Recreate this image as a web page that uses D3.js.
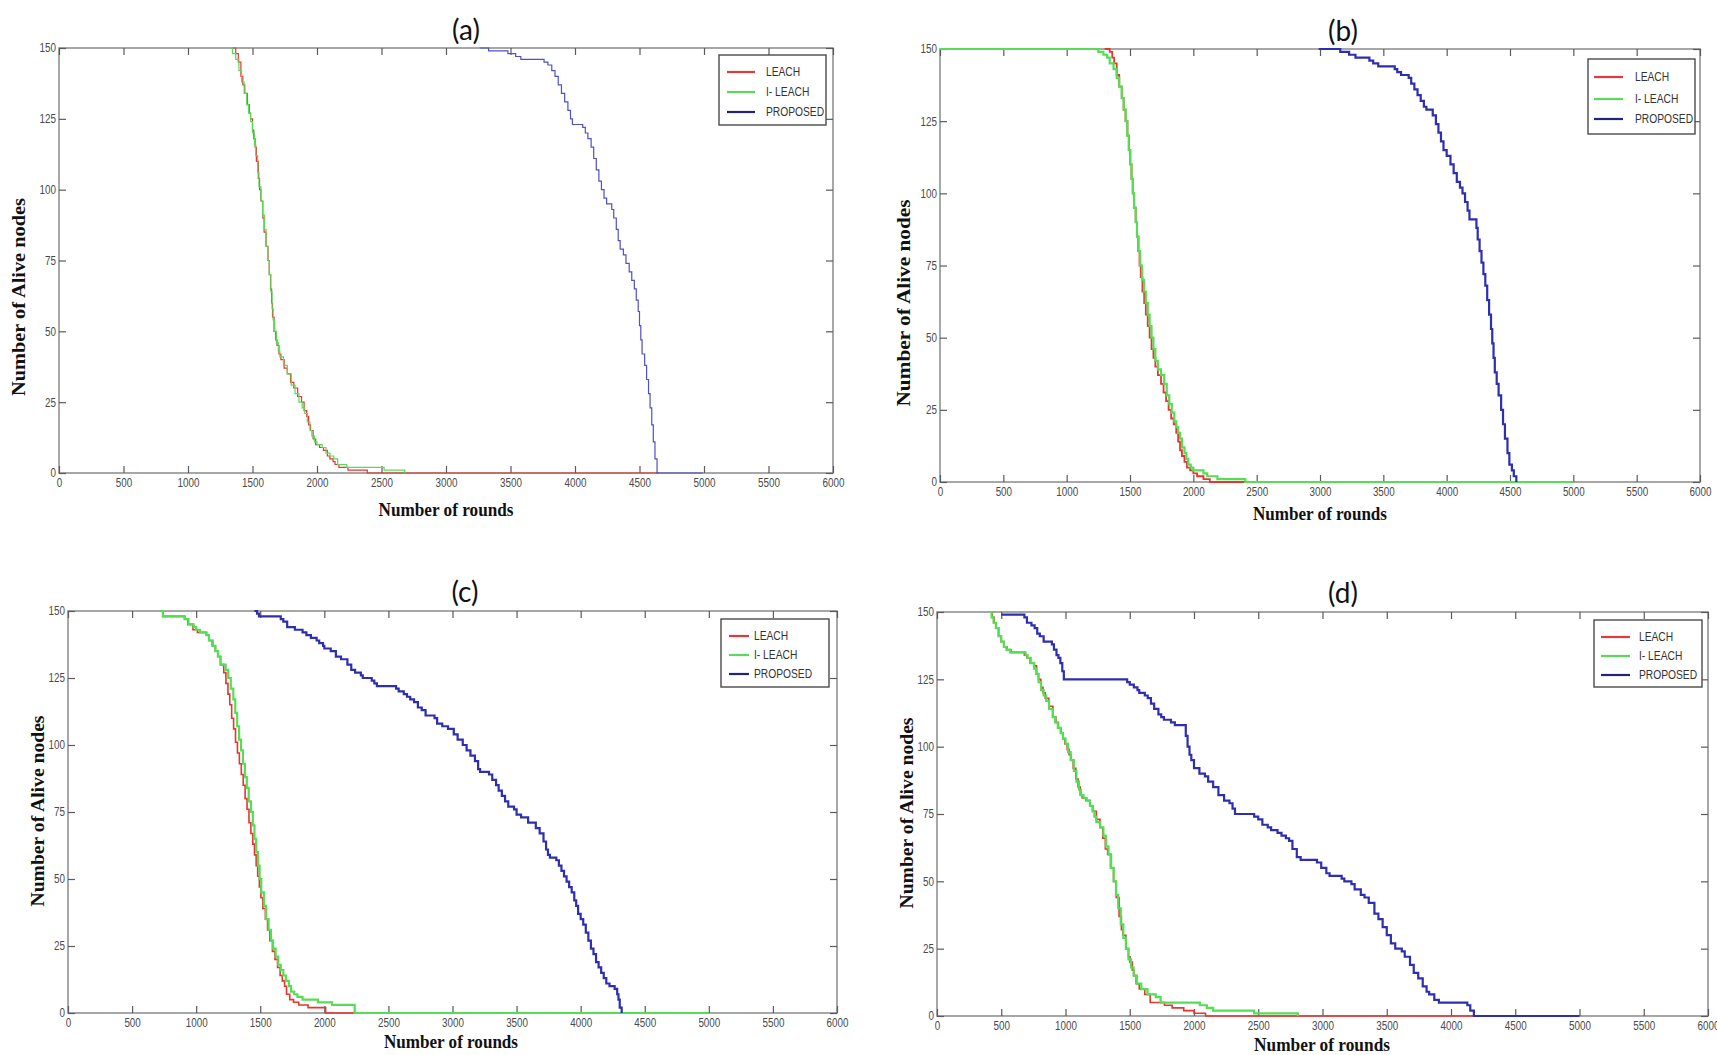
<!DOCTYPE html>
<html><head><meta charset="utf-8">
<script src="https://cdn.jsdelivr.net/npm/d3@7"></script>
<style>
html,body{margin:0;padding:0;background:#fff;}
svg{display:block;}
</style></head><body>
<svg id="chart" width="1717" height="1055"></svg>
<script>
// ---------------- DATA ----------------
const seriesNames = ["LEACH", "I- LEACH", "PROPOSED"];
const panelTitles = ["(a)", "(b)", "(c)", "(d)"];
const xTickValues = [0,500,1000,1500,2000,2500,3000,3500,4000,4500,5000,5500,6000];
const yTickValues = [0,25,50,75,100,125,150];
const xAxisTitle = "Number of rounds";
const yAxisTitle = "Number of Alive nodes";

// each point: [round at which the count starts, alive nodes]
const leachA = [[1345,150],[1370,148],[1390,145],[1410,140],[1425,137],[1440,134],[1460,130],[1475,127],[1485,125],[1500,121],[1510,118],[1520,115],[1530,110],[1545,104],[1555,100],[1565,96],[1580,90],[1590,85],[1605,80],[1620,75],[1630,70],[1640,65],[1648,60],[1655,55],[1667,50],[1680,47],[1690,45],[1705,42],[1720,40],[1745,37],[1770,35],[1795,32],[1820,30],[1850,27],[1880,25],[1900,22],[1920,20],[1935,17],[1950,15],[1970,12],[1990,10],[2020,9],[2050,8],[2080,6],[2100,5],[2125,4],[2140,3],[2170,2],[2240,1],[2390,0],[4650,0]];
const ileachA = [[1325,150],[1345,148],[1370,146],[1395,142],[1415,138],[1435,134],[1455,130],[1470,127],[1485,124],[1500,120],[1515,116],[1525,112],[1540,106],[1550,101],[1565,96],[1578,91],[1592,86],[1605,80],[1618,75],[1630,70],[1642,64],[1652,58],[1660,54],[1672,50],[1685,46],[1700,43],[1712,41],[1740,38],[1770,35],[1800,31],[1830,28],[1860,25],[1885,23],[1905,21],[1925,18],[1945,15],[1960,13],[1980,11],[2000,10],[2040,9],[2070,7],[2100,6],[2130,5],[2160,3],[2230,2],[2520,1],[2680,0]];
const proposedA = [[3265,150],[3330,149],[3480,148],[3540,147],[3580,146],[3760,145],[3790,144],[3820,142],[3845,140],[3870,137],[3895,134],[3920,131],[3945,128],[3965,125],[3980,123],[4060,122],[4080,120],[4100,118],[4125,115],[4145,111],[4165,107],[4185,103],[4205,100],[4225,97],[4245,95],[4285,93],[4300,90],[4320,86],[4335,82],[4350,79],[4375,77],[4395,74],[4420,71],[4440,68],[4460,65],[4475,61],[4490,57],[4500,52],[4510,47],[4520,42],[4540,38],[4555,33],[4570,28],[4582,23],[4595,17],[4607,11],[4620,5],[4636,0],[4990,0]];

const leachB = [[1300,150],[1340,149],[1360,147],[1375,145],[1395,141],[1415,137],[1435,133],[1450,129],[1465,125],[1480,120],[1492,115],[1502,110],[1512,105],[1522,100],[1533,95],[1545,90],[1555,85],[1565,80],[1575,75],[1585,71],[1598,66],[1612,62],[1625,58],[1640,54],[1655,50],[1670,46],[1685,43],[1700,40],[1720,37],[1745,34],[1765,31],[1785,28],[1805,25],[1825,22],[1845,20],[1865,17],[1880,14],[1895,11],[1910,9],[1930,7],[1950,5],[1975,4],[2000,3],[2030,2],[2080,1],[2130,0],[2420,0]];
const ileachB = [[0,150],[1250,149],[1290,148],[1320,147],[1340,145],[1370,143],[1395,140],[1415,137],[1435,133],[1450,129],[1465,125],[1478,120],[1490,115],[1502,110],[1512,105],[1522,100],[1532,95],[1545,90],[1555,85],[1568,80],[1580,75],[1595,70],[1610,66],[1625,62],[1640,58],[1655,54],[1670,50],[1685,46],[1700,42],[1720,39],[1745,37],[1770,34],[1790,30],[1810,27],[1830,24],[1850,21],[1865,19],[1880,17],[1895,15],[1910,12],[1930,10],[1945,8],[1960,6],[1980,5],[2000,4],[2080,3],[2110,2],[2190,1],[2410,0],[5000,0]];
const proposedB = [[2990,150],[3160,149],[3230,148],[3280,147],[3390,146],[3420,145],[3460,144],[3590,143],[3610,142],[3640,141],[3700,140],[3720,138],[3745,136],[3770,134],[3795,132],[3820,130],[3840,129],[3890,127],[3915,124],[3935,121],[3955,118],[3975,115],[4000,113],[4030,110],[4055,107],[4080,104],[4105,102],[4125,100],[4145,97],[4165,94],[4180,91],[4235,88],[4245,84],[4260,80],[4275,76],[4290,72],[4305,68],[4320,63],[4335,58],[4350,53],[4360,48],[4370,43],[4380,38],[4395,34],[4410,30],[4430,25],[4445,20],[4460,15],[4480,10],[4495,6],[4515,4],[4530,2],[4550,0]];

const leachC = [[720,150],[740,148],[910,147],[935,145],[975,143],[1010,142],[1080,141],[1100,139],[1125,137],[1150,135],[1170,133],[1190,130],[1215,127],[1232,123],[1248,119],[1262,115],[1277,110],[1292,106],[1307,101],[1322,97],[1337,93],[1352,89],[1367,85],[1382,80],[1397,76],[1412,71],[1427,67],[1442,63],[1455,59],[1468,55],[1480,51],[1493,47],[1505,43],[1520,39],[1540,35],[1557,31],[1575,27],[1595,23],[1615,20],[1635,17],[1655,14],[1672,12],[1690,10],[1705,7],[1730,5],[1760,4],[1800,3],[1873,2],[2010,0],[2240,0]];
const ileachC = [[720,150],[740,148],[910,147],[940,145],[980,144],[1000,143],[1030,142],[1080,141],[1100,139],[1130,137],[1150,135],[1170,133],[1190,130],[1230,128],[1250,125],[1270,121],[1290,117],[1305,112],[1320,107],[1335,102],[1350,98],[1365,93],[1380,88],[1395,84],[1410,79],[1428,75],[1442,70],[1455,65],[1468,60],[1482,55],[1495,50],[1508,45],[1528,40],[1545,35],[1565,31],[1583,27],[1600,24],[1620,21],[1640,18],[1660,16],[1680,14],[1700,12],[1724,10],[1740,8],[1765,7],[1790,6],[1830,5],[1950,4],[2060,3],[2237,0],[5000,0]];
const proposedC = [[1454,150],[1475,149],[1490,148],[1660,147],[1680,146],[1710,144],[1770,143],[1830,142],[1860,141],[1895,140],[1940,139],[1960,138],[1990,137],[2000,136],[2050,135],[2090,133],[2130,132],[2180,130],[2210,128],[2240,127],[2285,126],[2300,125],[2370,124],[2390,123],[2410,122],[2560,121],[2580,120],[2620,119],[2645,118],[2670,117],[2700,116],[2730,114],[2760,113],[2790,111],[2860,110],[2880,108],[2920,107],[2965,106],[3010,104],[3040,102],[3080,100],[3110,98],[3140,96],[3175,94],[3200,91],[3215,90],[3285,89],[3310,87],[3340,85],[3360,83],[3385,81],[3410,79],[3435,77],[3480,76],[3500,74],[3535,73],[3590,71],[3650,69],[3680,67],[3710,64],[3730,61],[3745,59],[3760,58],[3810,57],[3830,55],[3850,53],[3870,51],[3890,49],[3910,47],[3930,45],[3950,42],[3965,40],[3980,37],[4000,35],[4020,33],[4040,30],[4060,27],[4080,24],[4100,22],[4120,19],[4140,17],[4160,15],[4180,13],[4200,11],[4225,10],[4265,9],[4285,7],[4295,5],[4305,2],[4320,0]];

const leachD = [[404,150],[430,148],[445,146],[460,144],[480,141],[500,139],[520,137],[545,136],[575,135],[680,134],[700,133],[725,131],[757,130],[775,127],[790,125],[808,122],[825,120],[842,118],[870,115],[902,111],[925,109],[945,107],[965,105],[979,103],[995,101],[1013,99],[1028,97],[1042,95],[1060,92],[1080,88],[1098,85],[1115,82],[1130,81],[1160,80],[1190,78],[1213,76],[1240,73],[1268,70],[1290,66],[1310,62],[1328,60],[1350,55],[1374,50],[1395,44],[1417,37],[1435,32],[1447,30],[1470,25],[1490,22],[1502,20],[1520,17],[1532,15],[1550,12],[1574,10],[1617,8],[1659,5],[1770,4],[1830,3],[1920,2],[2000,1],[2090,0],[4180,0]];
const ileachD = [[404,150],[425,148],[440,146],[458,144],[478,141],[500,139],[520,137],[540,136],[570,135],[690,134],[705,133],[730,131],[755,129],[772,127],[790,124],[810,121],[830,119],[850,117],[872,114],[900,111],[920,109],[940,107],[962,105],[980,103],[1000,101],[1020,98],[1040,95],[1065,91],[1085,87],[1105,84],[1120,82],[1140,81],[1165,80],[1190,78],[1210,76],[1225,74],[1240,72],[1270,70],[1295,67],[1315,63],[1335,60],[1355,55],[1375,50],[1393,45],[1410,40],[1430,34],[1450,29],[1470,25],[1490,21],[1510,18],[1530,15],[1555,12],[1590,10],[1638,8],[1702,7],[1740,5],[2045,4],[2100,3],[2149,2],[2468,1],[2808,0]];
const proposedD = [[500,149],[680,148],[700,146],[735,145],[760,144],[780,142],[800,141],[830,139],[894,138],[910,136],[930,134],[945,133],[960,131],[975,128],[987,125],[1468,125],[1480,124],[1500,123],[1532,122],[1560,121],[1574,120],[1617,119],[1640,118],[1665,116],[1690,114],[1723,112],[1745,111],[1766,110],[1821,109],[1851,108],[1936,104],[1950,100],[1965,97],[1979,95],[2000,92],[2042,90],[2085,89],[2110,87],[2149,85],[2190,82],[2234,80],[2276,79],[2300,77],[2319,75],[2468,74],[2500,73],[2532,71],[2574,70],[2600,69],[2650,68],[2681,67],[2715,66],[2740,65],[2766,62],[2800,59],[2830,58],[2957,57],[2990,55],[3030,53],[3055,52],[3149,51],[3170,50],[3225,49],[3250,47],[3298,45],[3327,44],[3360,42],[3404,38],[3435,36],[3468,33],[3500,30],[3532,27],[3566,25],[3617,24],[3640,22],[3681,19],[3710,16],[3745,14],[3780,11],[3810,9],[3830,8],[3870,6],[3906,5],[4127,4],[4150,2],[4178,0],[5000,0]];

const panelSeries = [
  [leachA, ileachA, proposedA],
  [leachB, ileachB, proposedB],
  [leachC, ileachC, proposedC],
  [leachD, ileachD, proposedD]
];

// ---------------- LAYOUT / STYLE ----------------
const seriesColors = ["#e8352f", "#55dd55", "#3333bb"];
const legendColors = ["#e03a3a", "#5cd85c", "#23237a"];
const layout = [
  {L:59, T:48, R:833, B:473, tx:466, ty:40, ylx:25, yly:297, yll:198, xlx:446, xly:516, xll:135,
   leg:[719,55,826,125], rows:[72,92,112], lx:[727,755], ltx:766, lw:[1.2,1.2,1.2], blue:"#5050c8"},
  {L:940, T:49, R:1700, B:482, tx:1343, ty:41, ylx:910, yly:303, yll:207, xlx:1320, xly:520, xll:134,
   leg:[1588,59,1695,134], rows:[77,99,119], lx:[1594,1623], ltx:1635, lw:[1.8,2.2,2.2], blue:"#2e2eb0"},
  {L:68, T:611, R:837, B:1013, tx:465, ty:602, ylx:44, yly:811, yll:191, xlx:451, xly:1048, xll:134,
   leg:[721,619,829,687], rows:[636,655,674], lx:[729,749], ltx:754, lw:[1.6,2.2,2.2], blue:"#2e2eb0"},
  {L:937, T:612, R:1708, B:1016, tx:1343, ty:603, ylx:913, yly:813, yll:191, xlx:1322, xly:1051, xll:136,
   leg:[1594,620,1702,687], rows:[637,656,675], lx:[1601,1630], ltx:1639, lw:[1.6,2.2,2.2], blue:"#2e2eb0"}
];

const svg = d3.select("#chart");
const tickFont = "'Liberation Sans Narrow','Arial Narrow','Liberation Sans',sans-serif";

// detect whether a narrow face is really available; if not, condense horizontally
const probe = svg.append("text").style("font-family", tickFont).style("font-size", "100px").text("PROPOSED");
const isNarrow = probe.node().getComputedTextLength() < 500;
probe.remove();
function condense(sel) {
  if (isNarrow) return;
  sel.each(function () {
    const w = this.getComputedTextLength();
    if (w > 0) d3.select(this).attr("textLength", w * 0.82).attr("lengthAdjust", "spacingAndGlyphs");
  });
}

layout.forEach((p, i) => {
  const x = d3.scaleLinear().domain([0, 6000]).range([p.L, p.R]);
  const y = d3.scaleLinear().domain([0, 150]).range([p.B, p.T]);
  const g = svg.append("g");

  // frame
  g.append("rect").attr("x", p.L).attr("y", p.T).attr("width", p.R - p.L).attr("height", p.B - p.T)
    .attr("fill", "none").attr("stroke", "#8a8a8a").attr("stroke-width", 1.5);

  const styleAxis = (sel, withLabels) => {
    sel.select(".domain").remove();
    sel.selectAll(".tick line").attr("stroke", "#5a5a5a").attr("stroke-width", 1.2);
    sel.selectAll(".tick text").attr("fill", "#4a4a4a").style("font-family", tickFont).style("font-size", "12px");
    if (!withLabels) sel.selectAll(".tick text").remove();
    else condense(sel.selectAll(".tick text"));
  };

  g.append("g").attr("transform", `translate(0,${p.B})`)
    .call(d3.axisBottom(x).tickValues(xTickValues).tickSize(-7).tickPadding(5).tickFormat(d3.format("d")))
    .call(s => styleAxis(s, true));
  g.append("g").attr("transform", `translate(${p.L},0)`)
    .call(d3.axisLeft(y).tickValues(yTickValues).tickSize(-7).tickPadding(3).tickFormat(d3.format("d")))
    .call(s => styleAxis(s, true));
  g.append("g").attr("transform", `translate(0,${p.T})`)
    .call(d3.axisTop(x).tickValues(xTickValues).tickSize(-7).tickFormat(""))
    .call(s => styleAxis(s, false));
  g.append("g").attr("transform", `translate(${p.R},0)`)
    .call(d3.axisRight(y).tickValues(yTickValues).tickSize(-7).tickFormat(""))
    .call(s => styleAxis(s, false));

  // series
  const line = d3.line().x(d => x(d[0])).y(d => y(d[1])).curve(d3.curveStepAfter);
  panelSeries[i].forEach((data, k) => {
    g.append("path").datum(data).attr("d", line)
      .attr("fill", "none")
      .attr("stroke", k === 2 ? p.blue : seriesColors[k])
      .attr("stroke-width", p.lw[k])
      .attr("stroke-linejoin", "miter");
  });

  // title
  g.append("text").attr("x", p.tx).attr("y", p.ty).attr("text-anchor", "middle")
    .style("font-family", "Lato, 'Open Sans', sans-serif").style("font-size", "28px").attr("fill", "#111")
    .text(panelTitles[i]);

  // axis titles
  g.append("text").attr("x", p.xlx).attr("y", p.xly).attr("text-anchor", "middle")
    .style("font-family", "'Liberation Serif','Times New Roman',serif").style("font-weight", "bold")
    .style("font-size", "19px").attr("fill", "#111")
    .attr("textLength", p.xll).attr("lengthAdjust", "spacingAndGlyphs")
    .text(xAxisTitle);
  g.append("text").attr("transform", `translate(${p.ylx},${p.yly}) rotate(-90)`).attr("text-anchor", "middle")
    .style("font-family", "'Liberation Serif','Times New Roman',serif").style("font-weight", "bold")
    .style("font-size", "19px").attr("fill", "#111")
    .attr("textLength", p.yll).attr("lengthAdjust", "spacingAndGlyphs")
    .text(yAxisTitle);

  // legend
  const [lx0, ly0, lx1, ly1] = p.leg;
  g.append("rect").attr("x", lx0).attr("y", ly0).attr("width", lx1 - lx0).attr("height", ly1 - ly0)
    .attr("fill", "#fff").attr("stroke", "#4a4a4a").attr("stroke-width", 1.4);
  seriesNames.forEach((name, k) => {
    g.append("line").attr("x1", p.lx[0]).attr("x2", p.lx[1]).attr("y1", p.rows[k]).attr("y2", p.rows[k])
      .attr("stroke", legendColors[k]).attr("stroke-width", 2.2);
    g.append("text").attr("x", p.ltx).attr("y", p.rows[k]).attr("dominant-baseline", "central")
      .style("font-family", tickFont).style("font-size", "12.5px").attr("fill", "#333")
      .text(name)
      .call(condense);
  });
});
</script>
</body></html>
